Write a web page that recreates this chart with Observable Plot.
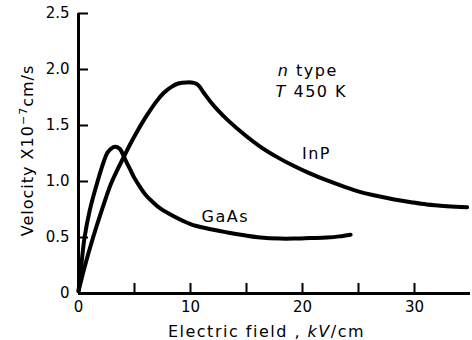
<!DOCTYPE html>
<html>
<head>
<meta charset="utf-8">
<script src="https://cdn.jsdelivr.net/npm/d3@7"></script>
<script src="https://cdn.jsdelivr.net/npm/@observablehq/plot@0.6"></script>
<style>
  body { margin: 0; background: #fff; }
</style>
</head>
<body>
<div id="chart"></div>
<script>
// Electron drift velocity vs electric field, n-type, T = 450 K
const fieldGaAs    = [0, 0.25, 0.54, 1.0, 1.7, 2.3, 2.6, 3.0, 3.3, 3.7, 4.1, 4.6, 5.0, 5.5, 6.0, 6.7, 7.3, 8.5, 10, 11.5, 13.3, 14.8, 16.25, 18, 19.2, 20.7, 22.2, 23.3, 24.3];
const velocityGaAs = [0.02, 0.25, 0.5, 0.74, 1.0, 1.19, 1.26, 1.30, 1.31, 1.29, 1.21, 1.11, 1.03, 0.95, 0.88, 0.81, 0.76, 0.69, 0.62, 0.58, 0.545, 0.52, 0.5, 0.49, 0.49, 0.495, 0.5, 0.51, 0.525];

const fieldInP    = [0, 0.5, 1.3, 2.0, 2.9, 3.5, 4.0, 4.6, 5.2, 6.1, 7.0, 7.6, 8.3, 8.9, 9.7, 10.3, 10.7, 11.2, 11.8, 12.5, 13.3, 14.8, 16.25, 17.7, 19.2, 20.7, 22.2, 23.7, 25.2, 26.7, 28.2, 29.7, 31.1, 32.9, 34.7];
const velocityInP = [0.02, 0.22, 0.5, 0.72, 0.98, 1.11, 1.21, 1.33, 1.44, 1.59, 1.72, 1.79, 1.845, 1.875, 1.885, 1.88, 1.86, 1.79, 1.71, 1.63, 1.55, 1.42, 1.31, 1.22, 1.14, 1.07, 1.01, 0.955, 0.905, 0.87, 0.84, 0.815, 0.795, 0.78, 0.77];

const xTicks = [0, 5, 10, 15, 20, 25, 30];
const xTickLabels = ["0", "", "10", "", "20", "", "30"];
const yTicks = [0, 0.5, 1.0, 1.5, 2.0, 2.5];
const yTickLabels = ["0", "0.5", "1.0", "1.5", "2.0", "2.5"];

const gaas = fieldGaAs.map((f, i) => ({field: f, velocity: velocityGaAs[i]}));
const inp = fieldInP.map((f, i) => ({field: f, velocity: velocityInP[i]}));

const lineStyle = {x: "field", y: "velocity", curve: "catmull-rom", strokeWidth: 4, strokeLinejoin: "round", strokeLinecap: "round"};

const W = 472, H = 340, ML = 78, MR = 2, MT = 13, MB = 47, TICK = 10;

const chart = Plot.plot({
  width: W,
  height: H,
  marginLeft: ML,
  marginRight: MR,
  marginTop: MT,
  marginBottom: MB,
  style: {fontFamily: "DejaVu Sans, sans-serif", fontSize: "15px", color: "#000", background: "#fff"},
  x: {domain: [0, 35]},
  y: {domain: [0, 2.5]},
  marks: [
    Plot.axisX(xTicks, {tickSize: 0, tickPadding: 8, tickFormat: (d, i) => xTickLabels[i], label: null}),
    Plot.axisY(yTicks, {tickSize: 0, tickPadding: 9, tickFormat: (d, i) => yTickLabels[i], label: null}),
    // inward ticks: full-frame rules trimmed down to TICK pixels at the axis
    Plot.ruleX(xTicks, {x: d => d, insetTop: H - MT - MB - TICK, strokeWidth: 2}),
    Plot.ruleY(yTicks, {y: d => d, insetRight: W - ML - MR - TICK, strokeWidth: 2}),
    Plot.ruleX([0], {strokeWidth: 3}),
    Plot.ruleY([0], {strokeWidth: 3}),
    Plot.line(gaas, lineStyle),
    Plot.line(inp, lineStyle),
    Plot.text(["InP"], {x: 21.25, y: 1.25, fontSize: 16}),
    Plot.text(["GaAs"], {x: 13.1, y: 0.68, fontSize: 16}),
    Plot.text(["n type"], {x: 17.8, y: 1.99, textAnchor: "start", fontSize: 16}),
    Plot.text(["T 450 K"], {x: 17.6, y: 1.80, textAnchor: "start", fontSize: 16}),
    Plot.text(["Electric field , kV/cm"], {frameAnchor: "bottom", lineAnchor: "bottom", dx: -8, dy: 43, fontSize: 16}),
    Plot.text(["Velocity X10-7cm/s"], {frameAnchor: "left", textAnchor: "middle", rotate: -90, dx: -51, dy: -3, fontSize: 16})
  ]
});

// Mixed styling (italics, superscript) and spacing inside a few labels
const svg = d3.select(chart);
function restyle(match, parts, spacing) {
  svg.selectAll("text").filter(function() { return this.textContent === match; }).each(function() {
    const t = d3.select(this);
    t.text(null).style("letter-spacing", spacing + "px");
    for (const p of parts) {
      const s = t.append("tspan").text(p.text);
      if (p.italic) s.attr("font-style", "italic");
      if (p.sup) s.attr("baseline-shift", "super").attr("font-size", "11px");
    }
  });
}
restyle("Electric field , kV/cm", [{text: "Electric field , "}, {text: "kV", italic: true}, {text: "/cm"}], 1.5);
restyle("Velocity X10-7cm/s", [{text: "Velocity X10"}, {text: "−7", sup: true}, {text: "cm/s"}], 1);
restyle("n type", [{text: "n", italic: true}, {text: " type"}], 1.5);
restyle("T 450 K", [{text: "T", italic: true}, {text: " 450 K"}], 1.5);
restyle("InP", [{text: "InP"}], 1.5);
restyle("GaAs", [{text: "GaAs"}], 1.5);

document.getElementById("chart").appendChild(chart);
</script>
</body>
</html>
